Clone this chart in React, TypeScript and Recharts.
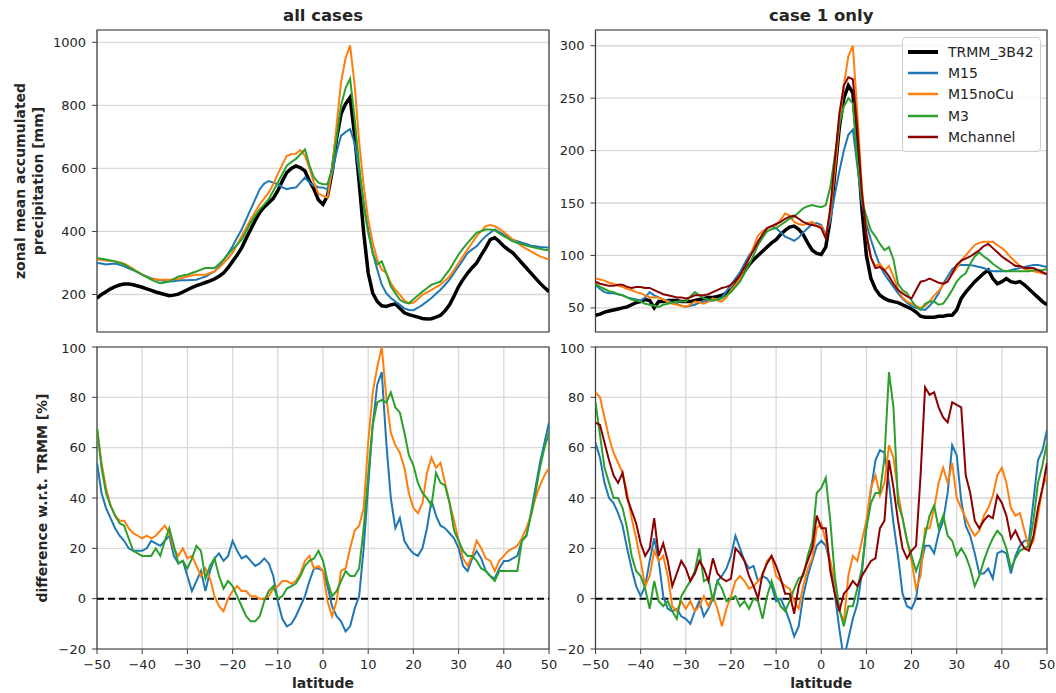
import React from "react";
import {
  LineChart,
  Line,
  XAxis,
  YAxis,
  CartesianGrid,
  ReferenceLine,
  ReferenceArea,
  Legend,
} from "recharts";

// latitude (degrees), one value per degree
const latitudes = [
  -50, -49, -48, -47, -46, -45, -44, -43, -42, -41,
  -40, -39, -38, -37, -36, -35, -34, -33, -32, -31,
  -30, -29, -28, -27, -26, -25, -24, -23, -22, -21,
  -20, -19, -18, -17, -16, -15, -14, -13, -12, -11,
  -10, -9, -8, -7, -6, -5, -4, -3, -2, -1,
  0, 1, 2, 3, 4, 5, 6, 7, 8, 9,
  10, 11, 12, 13, 14, 15, 16, 17, 18, 19,
  20, 21, 22, 23, 24, 25, 26, 27, 28, 29,
  30, 31, 32, 33, 34, 35, 36, 37, 38, 39,
  40, 41, 42, 43, 44, 45, 46, 47, 48, 49, 50,
];

const latTicks = [-50, -40, -30, -20, -10, 0, 10, 20, 30, 40, 50];
const allCasesTicks = [200, 400, 600, 800, 1000];
const case1Ticks = [50, 100, 150, 200, 250, 300];
const diffTicks = [-20, 0, 20, 40, 60, 80, 100];

// ---- all cases: zonal mean accumulated precipitation [mm]
const trmmAll = [
  188, 200, 209, 218, 225, 230, 233, 233, 231, 227,
  223, 218, 213, 208, 204, 200, 196, 198, 201, 208,
  215, 222, 228, 233, 238, 243, 249, 258, 268, 285,
  305, 325, 348, 378, 406, 435, 460, 478, 491, 505,
  529, 560, 587, 600, 608, 602, 592, 560, 534, 500,
  486, 513, 587, 694, 773, 805, 825, 704, 555, 396,
  268, 204, 178, 164, 162, 167, 170, 156, 142, 136,
  132, 128, 124, 122, 123, 128, 134, 148, 167, 195,
  225, 248, 268, 285, 300, 325, 348, 374, 380, 368,
  353, 342, 332, 316, 300, 284, 268, 252, 236, 222, 209,
];
const m15All = [
  300, 298, 295, 297, 298, 294, 289, 283, 277, 270,
  263, 257, 252, 248, 245, 243, 241, 242, 244, 245,
  245, 246, 247, 252, 257, 265, 273, 290, 310, 330,
  353, 380, 406, 438, 470, 502, 534, 552, 560, 555,
  550, 540, 534, 538, 539, 555, 571, 555, 545, 540,
  539, 534, 582, 651, 704, 715, 725, 680, 587, 491,
  406, 332, 279, 231, 204, 189, 178, 167, 156, 151,
  150, 158, 167, 178, 189, 202, 215, 231, 247, 268,
  289, 310, 332, 343, 353, 370, 385, 396, 406, 398,
  390, 382, 374, 369, 364, 360, 355, 353, 351, 350, 348,
];
const m15noCuAll = [
  311, 310, 308, 306, 305, 302, 298, 290, 281, 272,
  263, 255, 249, 248, 247, 247, 247, 248, 249, 253,
  257, 260, 263, 263, 263, 268, 273, 285, 300, 315,
  332, 358, 385, 412, 438, 462, 486, 505, 523, 550,
  582, 612, 640, 645, 646, 658, 640, 600, 555, 520,
  513, 507, 598, 736, 874, 950, 990, 864, 683, 545,
  438, 364, 311, 279, 268, 236, 215, 199, 181, 172,
  174, 186, 199, 207, 215, 223, 231, 244, 257, 278,
  300, 322, 343, 364, 385, 401, 417, 420, 417, 408,
  398, 386, 374, 364, 353, 345, 337, 329, 321, 316, 311,
];
const m3All = [
  316, 313, 311, 308, 305, 300, 295, 287, 279, 271,
  263, 255, 247, 241, 236, 238, 241, 249, 257, 260,
  263, 268, 273, 279, 284, 284, 284, 297, 310, 327,
  343, 358, 374, 400, 428, 450, 470, 486, 502, 528,
  555, 582, 609, 620, 630, 645, 660, 610, 571, 555,
  550, 550, 598, 694, 800, 855, 885, 758, 609, 481,
  396, 332, 295, 305, 268, 226, 204, 183, 175, 172,
  185, 197, 209, 220, 231, 236, 241, 260, 279, 303,
  327, 346, 364, 380, 396, 401, 406, 406, 404, 394,
  385, 377, 369, 364, 359, 355, 351, 348, 345, 342, 340,
];

// ---- case 1 only: zonal mean accumulated precipitation [mm]
const trmmCase1 = [
  43, 44, 46, 47, 48, 49, 50, 51, 53, 55,
  56, 58, 57, 50, 56, 56, 57, 57, 57, 56,
  56, 56, 57, 58, 59, 60, 60, 61, 62, 64,
  67, 72, 78, 85, 91, 96, 100, 104, 108, 112,
  115, 120, 124, 127, 128, 125, 120, 112, 105, 102,
  101, 108, 135, 178, 222, 250, 262, 255, 205, 145,
  100, 78, 68, 62, 59, 57, 56, 55, 53, 51,
  49, 46, 42, 41, 41, 41, 42, 42, 43, 43,
  48, 59, 65, 70, 75, 79, 83, 86, 78, 73,
  75, 78, 75, 74, 75, 72, 68, 64, 60, 56, 53,
];
const m15Case1 = [
  72, 68, 65, 64, 64, 63, 62, 60, 59, 58,
  57, 60, 65, 62, 60, 58, 57, 55, 54, 52,
  51, 52, 53, 55, 56, 57, 57, 58, 60, 66,
  72, 78, 84, 92, 100, 106, 113, 120, 126, 128,
  126, 122, 118, 116, 114, 117, 122, 126, 130, 131,
  129, 120, 133, 158, 180, 200, 215, 220, 185, 150,
  130, 115, 102, 90, 82, 76, 70, 64, 59, 55,
  52, 50, 49, 48, 52, 57, 64, 73, 80, 87,
  90, 91, 91, 91, 90, 89, 88, 86, 85, 85,
  85, 85, 86, 87, 88, 89, 90, 91, 91, 90, 89,
];
const m15noCuCase1 = [
  78, 77, 76, 74, 73, 71, 70, 68, 67, 65,
  64, 62, 60, 60, 60, 58, 56, 54, 53, 52,
  51, 53, 56, 55, 54, 56, 59, 57, 56, 60,
  67, 72, 78, 88, 97, 108, 119, 123, 126, 128,
  129, 134, 140, 138, 132, 130, 129, 131, 132, 128,
  128, 118, 140, 180, 225, 262, 290, 300, 235, 165,
  122, 98, 90, 92, 86, 90, 80, 68, 60, 56,
  54, 52, 50, 52, 56, 62, 66, 72, 76, 82,
  88, 95, 100, 105, 110, 112, 113, 113, 113, 110,
  107, 103, 98, 94, 90, 87, 86, 85, 84, 83, 82,
];
const m3Case1 = [
  73, 70, 68, 66, 65, 63, 62, 60, 58, 57,
  56, 54, 53, 52, 51, 53, 54, 55, 56, 56,
  56, 61, 65, 62, 59, 58, 57, 58, 59, 62,
  65, 70, 75, 83, 91, 100, 110, 117, 123, 125,
  126, 129, 132, 135, 137, 141, 145, 147, 148, 147,
  146, 148, 165, 195, 225, 242, 250, 245, 190, 153,
  137, 124, 118, 111, 105, 108, 96, 73, 67, 64,
  57, 51, 48, 54, 56, 56, 53, 54, 60, 67,
  75, 80, 83, 92, 99, 103, 99, 96, 92, 89,
  86, 85, 85, 85, 85, 85, 85, 86, 86, 86, 87,
];
const mchannelCase1 = [
  75, 73, 72, 71, 71, 72, 72, 70, 69, 70,
  70, 69, 69, 67, 65, 63, 62, 61, 60, 60,
  59, 60, 62, 62, 62, 63, 65, 67, 69, 70,
  72, 76, 81, 89, 97, 105, 113, 120, 126, 128,
  130, 132, 135, 137, 138, 135, 132, 130, 129, 128,
  126, 116, 145, 190, 235, 262, 270, 268, 220, 160,
  120, 98, 88, 89, 86, 80, 73, 67, 64, 61,
  59, 67, 75, 76, 78, 76, 74, 73, 75, 83,
  91, 95, 97, 99, 102, 105, 109, 111, 107, 103,
  99, 96, 93, 90, 90, 88, 88, 88, 86, 84, 82,
];

// ---- all cases: difference w.r.t. TRMM [%]
const m15DiffAll = [
  54, 42, 36, 32, 28, 25, 23, 20, 19, 19,
  19, 20, 23, 22, 21, 23, 25, 17, 14, 15,
  9, 3, 7, 11, 3, 11, 16, 18, 15, 17,
  23, 19, 16, 17, 15, 13, 14, 16, 14, 9,
  -1, -8, -11, -10, -7, -3, 1, 7, 12, 12,
  11, 5, -3, -7, -9, -13, -11, -4, 1, 20,
  45, 69, 85, 90, 62, 40, 28, 32, 23, 20,
  18, 17, 20, 28, 39, 33, 29, 28, 26, 24,
  20, 13, 11, 16, 19, 16, 11, 9, 8, 12,
  15, 15, 16, 17, 23, 25, 34, 44, 54, 62, 70,
];
const m15noCuDiffAll = [
  68, 54, 44, 37, 33, 31, 31, 28, 26, 25,
  24, 25, 24, 25, 27, 29, 26, 20, 17, 20,
  16, 17, 13, 9, 12, 8, 1, -3, -5, 0,
  3, 5, 3, 3, 1, 1, 0, 0, 1, 4,
  5, 7, 7, 6, 7, 10, 15, 17, 12, 13,
  11, -1, -7, -1, 11, 12, 20, 27, 29, 36,
  62, 82, 92, 100, 80, 66, 61, 58, 52, 42,
  36, 34, 38, 50, 56, 52, 54, 46, 38, 31,
  23, 16, 13, 17, 23, 20, 16, 15, 11, 15,
  17, 19, 20, 21, 24, 28, 33, 40, 45, 49, 52,
];
const m3DiffAll = [
  68, 52, 42, 37, 33, 30, 29, 24, 19, 18,
  17, 17, 17, 20, 17, 23, 28, 21, 14, 15,
  12, 16, 21, 19, 8, 13, 16, 9, 4, 7,
  5, 1, -3, -7, -9, -9, -7, -1, 3, 5,
  0, 1, 4, 5, 6, 9, 13, 15, 16, 19,
  15, 7, 1, 3, 7, 11, 9, 9, 12, 28,
  49, 69, 78, 79, 78, 82, 76, 74, 66, 57,
  53, 46, 42, 40, 37, 50, 46, 45, 38, 27,
  23, 19, 17, 17, 15, 12, 11, 9, 7, 11,
  11, 11, 11, 11, 23, 25, 33, 42, 52, 60, 66,
];

// ---- case 1 only: difference w.r.t. TRMM [%]
const m15DiffCase1 = [
  62, 56, 46, 40, 38, 34, 29, 20, 12, 5,
  1, 5, 15, 24, 15, 1, -4, -5, -4, -7,
  -8, -10, -5, -1, -7, -4, 0, 7, 9, 12,
  17, 25, 20, 15, 12, 13, 7, 9, 8, 5,
  -1, 0, -4, -9, -15, -11, 1, 9, 15, 21,
  23, 21, 14, 2, -12, -24, -16, -8, -2, 10,
  29, 43, 55, 59, 58, 46, 30, 17, 2, -3,
  -4, 0, 13, 21, 21, 18, 26, 31, 42, 61,
  57, 39, 29, 25, 18, 10, 10, 12, 8, 18,
  19, 18, 10, 17, 21, 23, 23, 39, 55, 59, 67,
];
const m15noCuDiffCase1 = [
  82, 80, 72, 64, 58, 54, 50, 42, 32, 24,
  15, 5, 9, 19, 15, 17, 9, -3, -5, -1,
  -4, -1, -5, -3, 1, -3, 1, -4, -11, -4,
  1, 7, 9, 7, 4, 5, 7, 9, 15, 17,
  9, 7, 5, 4, -1, -4, 5, 12, 16, 28,
  30, 23, 15, 7, -5, -9, 9, 17, 15, 23,
  31, 44, 49, 41, 46, 61, 56, 42, 32, 23,
  15, 4, 9, 28, 28, 36, 46, 52, 46, 54,
  40, 36, 32, 28, 25, 27, 33, 36, 41, 49,
  52, 46, 36, 33, 34, 27, 20, 23, 33, 44, 49,
];
const m3DiffCase1 = [
  78, 65, 52, 46, 40, 40, 36, 28, 17, 11,
  9, 4, -4, 7, -1, -3, -1, -5, -8, 1,
  4, 7, 11, 20, 7, 8, -1, 7, 4, -1,
  0, 1, -3, -1, -4, 0, -1, -8, 1, 7,
  1, -3, -5, -1, 4, 8, 9, 17, 23, 42,
  44, 48, 31, 9, -4, -11, -3, -3, 4, 12,
  28, 38, 42, 42, 56, 90, 76, 38, 32, 23,
  17, 11, 16, 25, 33, 37, 28, 33, 25, 23,
  17, 20, 17, 12, 5, 9, 15, 20, 24, 27,
  25, 20, 12, 16, 19, 20, 21, 31, 46, 53, 62,
];
const mchannelDiffCase1 = [
  70, 69, 62, 55, 49, 46, 50, 40, 35, 30,
  22, 17, 20, 32, 17, 22, 15, 5, 10, 15,
  12, 7, 10, 15, 12, 7, 16, 10, 8, 7,
  8, 20, 18, 15, 9, 5, 0, 10, 14, 17,
  13, 8, 2, 2, -6, 5, 10, 15, 20, 33,
  28, 28, 11, 2, -5, 2, 4, 7, 5, 9,
  12, 15, 16, 28, 31, 55, 44, 31, 20, 16,
  19, 21, 49, 84, 81, 82, 76, 72, 70, 78,
  77, 76, 49, 42, 31, 28, 31, 33, 32, 41,
  38, 33, 24, 27, 23, 20, 19, 25, 36, 44, 54,
];

const seriesOrder = ["trmm", "m15", "m15nocu", "m3", "mch"];
const series: Record<string, { name: string; color: string; width: number }> = {
  trmm: { name: "TRMM_3B42", color: "#000000", width: 3.5 },
  m15: { name: "M15", color: "#1f77b4", width: 2 },
  m15nocu: { name: "M15noCu", color: "#ff7f0e", width: 2 },
  m3: { name: "M3", color: "#2ca02c", width: 2 },
  mch: { name: "Mchannel", color: "#8b0000", width: 2 },
};

const precipAll = latitudes.map((lat, i) => ({
  lat,
  trmm: trmmAll[i],
  m15: m15All[i],
  m15nocu: m15noCuAll[i],
  m3: m3All[i],
}));
const precipCase1 = latitudes.map((lat, i) => ({
  lat,
  trmm: trmmCase1[i],
  m15: m15Case1[i],
  m15nocu: m15noCuCase1[i],
  m3: m3Case1[i],
  mch: mchannelCase1[i],
}));
const diffAll = latitudes.map((lat, i) => ({
  lat,
  m15: m15DiffAll[i],
  m15nocu: m15noCuDiffAll[i],
  m3: m3DiffAll[i],
}));
const diffCase1 = latitudes.map((lat, i) => ({
  lat,
  m15: m15DiffCase1[i],
  m15nocu: m15noCuDiffCase1[i],
  m3: m3DiffCase1[i],
  mch: mchannelDiffCase1[i],
}));

const FONT = "'DejaVu Sans', 'Liberation Sans', sans-serif";
const TEXT = "#262626";
const minus = (v: number) => String(v).replace("-", "\u2212");

const labelStyle: React.CSSProperties = {
  fontFamily: FONT,
  fontSize: 14,
  fontWeight: "bold",
  fill: TEXT,
};

// rotated y-axis title, one <text> per line
const yTitle = (lines: string[], xs: number[]) => (props: any) => {
  const vb = props.viewBox || { x: 0, y: 0, width: 0, height: 0 };
  const cy = vb.y + vb.height / 2;
  return (
    <g>
      {lines.map((t, i) => (
        <text
          key={t}
          x={vb.x + xs[i]}
          y={cy}
          dy="0.36em"
          textAnchor="middle"
          transform={`rotate(-90 ${vb.x + xs[i]} ${cy})`}
          style={labelStyle}
        >
          {t}
        </text>
      ))}
    </g>
  );
};

const LegendBox = ({ payload }: any) => {
  const items = [...(payload || [])].sort(
    (a: any, b: any) => seriesOrder.indexOf(a.dataKey) - seriesOrder.indexOf(b.dataKey)
  );
  return (
    <div
      style={{
        background: "rgba(255,255,255,0.85)",
        border: "1px solid #cfcfcf",
        borderRadius: 4,
        padding: "3px 6px 3px 5px",
        fontFamily: FONT,
        fontSize: 14,
        color: TEXT,
      }}
    >
      {items.map((entry: any) => {
        const s = series[entry.dataKey] || { color: entry.color, width: 2 };
        return (
          <div key={entry.value} style={{ display: "flex", alignItems: "center", height: 21.4 }}>
            <svg width={30} height={8} style={{ flex: "none" }}>
              <line x1={0} y1={4} x2={30} y2={4} stroke={s.color} strokeWidth={s.width + 0.5} />
            </svg>
            <span style={{ marginLeft: 10, whiteSpace: "nowrap" }}>{entry.value}</span>
          </div>
        );
      })}
    </div>
  );
};

type PanelProps = {
  data: any[];
  keys: string[];
  yDomain: [number, number];
  yTicks: number[];
  left: number;
  top: number;
  width: number;
  height: number;
  marginTop: number;
  marginRight: number;
  yAxisWidth: number;
  bottomRow: boolean;
  yLabel?: any;
  title?: string;
  legend?: boolean;
};

const Panel: React.FC<PanelProps> = ({
  data,
  keys,
  yDomain,
  yTicks,
  left,
  top,
  width,
  height,
  marginTop,
  marginRight,
  yAxisWidth,
  bottomRow,
  yLabel,
  title,
  legend,
}) => (
  <div style={{ position: "absolute", left, top, width, height }}>
    {title && (
      <div
        style={{
          position: "absolute",
          left: yAxisWidth,
          width: width - yAxisWidth - marginRight,
          top: 6,
          lineHeight: "20px",
          textAlign: "center",
          fontFamily: FONT,
          fontWeight: "bold",
          fontSize: 16.5,
          color: TEXT,
        }}
      >
        {title}
      </div>
    )}
    <LineChart
      width={width}
      height={height}
      data={data}
      margin={{ top: marginTop, right: marginRight, bottom: 0, left: 0 }}
    >
      <CartesianGrid stroke="#d9d9d9" strokeWidth={1.3} />
      <XAxis
        dataKey="lat"
        type="number"
        domain={[-50, 50]}
        ticks={latTicks}
        allowDataOverflow
        axisLine={false}
        tickLine={{ stroke: "#3c3c3c" }}
        tickSize={5}
        tickMargin={6}
        tickFormatter={minus}
        tick={bottomRow ? { fontSize: 13, fill: TEXT, fontFamily: FONT } : false}
        height={bottomRow ? 44 : 8}
        label={
          bottomRow
            ? { value: "latitude", position: "insideBottom", offset: 5, style: labelStyle }
            : undefined
        }
      />
      <YAxis
        type="number"
        domain={yDomain}
        ticks={yTicks}
        allowDataOverflow
        width={yAxisWidth}
        axisLine={false}
        tickLine={{ stroke: "#3c3c3c" }}
        tickSize={5}
        tickMargin={6}
        tickFormatter={minus}
        tick={{ fontSize: 13, fill: TEXT, fontFamily: FONT }}
        label={yLabel}
      />
      {bottomRow && (
        <ReferenceLine y={0} stroke="#000" strokeWidth={2} strokeDasharray="7 4" />
      )}
      {keys.map((k) => (
        <Line
          key={k}
          type="linear"
          dataKey={k}
          name={series[k].name}
          stroke={series[k].color}
          strokeWidth={series[k].width}
          dot={false}
          activeDot={false}
          isAnimationActive={false}
        />
      ))}
      <ReferenceArea
        x1={-50}
        x2={50}
        y1={yDomain[0]}
        y2={yDomain[1]}
        fill="none"
        fillOpacity={0}
        stroke="#3c3c3c"
        strokeWidth={1.2}
        ifOverflow="visible"
      />
      {legend && (
        <Legend
          layout="vertical"
          align="center"
          verticalAlign="middle"
          itemSorter={(item: any) => seriesOrder.indexOf(item.dataKey)}
          content={<LegendBox />}
          wrapperStyle={{ left: 362, top: 37, width: 139 }}
        />
      )}
    </LineChart>
  </div>
);

export default function App() {
  return (
    <div
      style={{
        position: "relative",
        width: 1056,
        height: 693,
        background: "#fff",
        overflow: "hidden",
      }}
    >
      <style>{"body{margin:0;}"}</style>
      <Panel
        data={precipAll}
        keys={["trmm", "m15", "m15nocu", "m3"]}
        yDomain={[81, 1039]}
        yTicks={allCasesTicks}
        left={0}
        top={0}
        width={560}
        height={340}
        marginTop={30}
        marginRight={11}
        yAxisWidth={97}
        bottomRow={false}
        title="all cases"
        yLabel={yTitle(["zonal mean accumulated", "precipitation [mm]"], [19.6, 37.5])}
      />
      <Panel
        data={precipCase1}
        keys={["trmm", "m15", "m15nocu", "m3", "mch"]}
        yDomain={[27, 315]}
        yTicks={case1Ticks}
        left={540}
        top={0}
        width={516}
        height={340}
        marginTop={30}
        marginRight={9}
        yAxisWidth={55.5}
        bottomRow={false}
        title="case 1 only"
        legend
      />
      <Panel
        data={diffAll}
        keys={["m15", "m15nocu", "m3"]}
        yDomain={[-20, 100]}
        yTicks={diffTicks}
        left={0}
        top={340}
        width={560}
        height={353}
        marginTop={7}
        marginRight={11}
        yAxisWidth={97}
        bottomRow
        yLabel={yTitle(["difference w.r.t.  TRMM [%]"], [42])}
      />
      <Panel
        data={diffCase1}
        keys={["m15", "m15nocu", "m3", "mch"]}
        yDomain={[-20, 100]}
        yTicks={diffTicks}
        left={540}
        top={340}
        width={516}
        height={353}
        marginTop={7}
        marginRight={9}
        yAxisWidth={55.5}
        bottomRow
      />
    </div>
  );
}
